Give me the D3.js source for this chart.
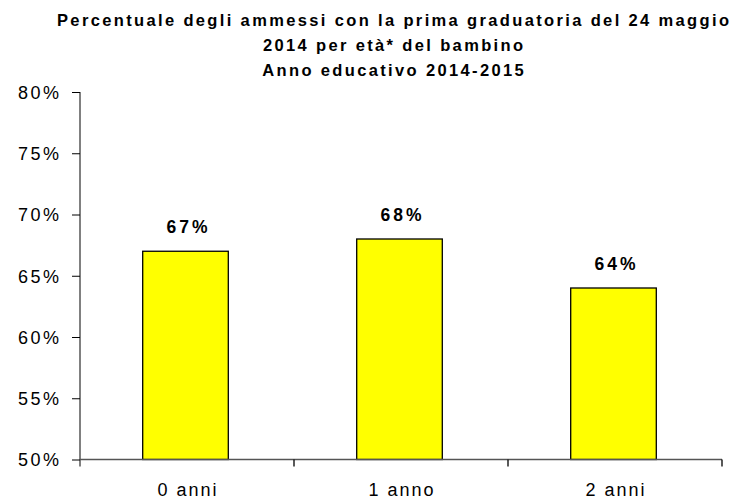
<!DOCTYPE html>
<html><head><meta charset="utf-8">
<script src="https://cdn.jsdelivr.net/npm/d3@7"></script>
<style>body{margin:0;background:#fff}svg{display:block}</style>
</head><body>
<script>
const titleLines = ["Percentuale degli ammessi con la prima graduatoria del 24 maggio", "2014 per età* del bambino", "Anno educativo 2014-2015"];
const categories = ["0 anni", "1 anno", "2 anni"];
const values = [67, 68, 64];
const yTicks = [50, 55, 60, 65, 70, 75, 80];

const W = 734, H = 499;
const mLeft = 80, mRight = 722, mTop = 92, mBottom = 459.5;
const FONT = "Liberation Sans, Arial, sans-serif";
const svg = d3.select("body").append("svg").attr("width", W).attr("height", H);

const x = d3.scaleBand().domain(categories).range([mLeft, mRight]).paddingInner(0).paddingOuter(0);
const y = d3.scaleLinear().domain([50, 80]).range([mBottom, mTop]);

// title
const titleCx = 393, titleWidth = 672;
const tt = svg.append("g").selectAll("text").data(titleLines).join("text")
  .attr("x", titleCx).attr("y", (d, i) => 26 + i * 25)
  .attr("text-anchor", "middle")
  .attr("font-family", FONT)
  .attr("font-weight", "bold").attr("font-size", 16.5)
  .text(d => d);
const natural = tt.node().getComputedTextLength();
const ls = (titleWidth - natural) / (titleLines[0].length - 1);
tt.attr("letter-spacing", ls).attr("x", titleCx + ls / 2);

// bars
const bw = x.bandwidth() * 0.4;
svg.append("g").selectAll("rect").data(values).join("rect")
  .attr("x", (d, i) => x(categories[i]) + x.bandwidth() / 2 - bw / 2 - 1.5)
  .attr("y", d => y(d))
  .attr("width", bw)
  .attr("height", d => y(50) - y(d))
  .attr("fill", "#ffff00").attr("stroke", "#000").attr("stroke-width", 1.3);

// value labels
svg.append("g").selectAll("text").data(values).join("text")
  .attr("x", (d, i) => x(categories[i]) + x.bandwidth() / 2 + 1.5)
  .attr("y", d => y(d) - 18.5)
  .attr("text-anchor", "middle")
  .attr("font-family", FONT)
  .attr("font-weight", "bold").attr("font-size", 17.5)
  .attr("letter-spacing", 3)
  .text(d => d + "%");

// y axis
const yAxis = d3.axisLeft(y).tickValues(yTicks).tickSize(8).tickPadding(13).tickFormat(d => d + "%");
const gy = svg.append("g").attr("transform", `translate(${mLeft},0)`).call(yAxis);
gy.select(".domain").attr("stroke", "#808080").attr("stroke-width", 2).attr("d", `M0,${mTop}V${mBottom + 7}`);
gy.selectAll(".tick line").attr("stroke", "#000");
gy.selectAll(".tick text").attr("font-family", FONT).attr("font-size", 18).attr("letter-spacing", 2.5)
  .attr("fill", "#000").attr("dy", "0.35em").attr("dx", 2.5);

// x axis
const xAxis = d3.axisBottom(x).tickSize(0).tickPadding(24);
const gx = svg.append("g").attr("transform", `translate(0,${mBottom})`).call(xAxis);
gx.select(".domain").attr("stroke", "#555").attr("stroke-width", 1.3).attr("d", `M${mLeft},0H${mRight}`);
gx.selectAll(".tick text").attr("font-family", FONT).attr("font-size", 18).attr("letter-spacing", 2)
  .attr("fill", "#000").attr("dy", "0.71em").attr("dx", 1);
// category boundary ticks
const bounds = categories.map(c => x(c)).concat([x(categories[categories.length - 1]) + x.bandwidth()]).slice(1);
gx.append("g").selectAll("line").data(bounds).join("line")
  .attr("x1", d => d).attr("x2", d => d).attr("y1", 0).attr("y2", 7)
  .attr("stroke", "#000").attr("stroke-width", 1.3);
</script>
</body></html>
